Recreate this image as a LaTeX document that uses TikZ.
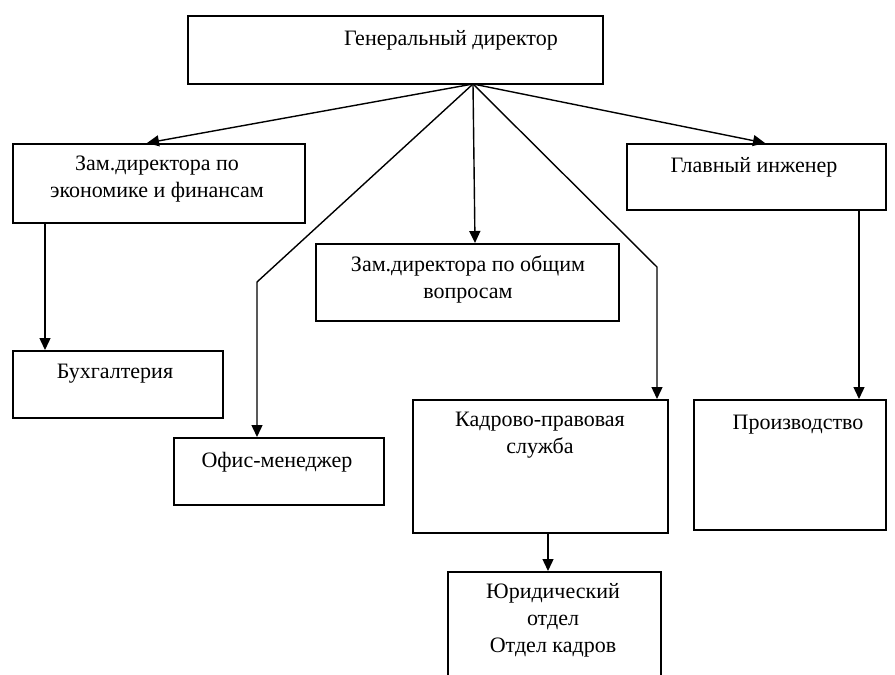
\documentclass[tikz,border=0pt]{standalone}
\usepackage{fontspec}
\setmainfont{Liberation Serif}
\usetikzlibrary{arrows.meta}
\begin{document}
\begin{tikzpicture}[x=1pt,y=-1pt,
  box/.style={draw, line width=2pt, inner sep=0pt, anchor=north west},
  lbl/.style={inner sep=0pt, anchor=base, align=center, font=\fontsize{22}{27}\selectfont},
  arr/.style={line width=1.4pt, -{Triangle[length=12pt,width=11pt]}},
  ln/.style={line width=1.4pt}]
\useasboundingbox (0,0) rectangle (895,675);
% boxes
\node[box, minimum width=415pt, minimum height=68pt] (gd) at (187,15) {};
\node[box, minimum width=292pt, minimum height=79pt] (ze) at (12,143) {};
\node[box, minimum width=259pt, minimum height=66pt] (gi) at (626,143) {};
\node[box, minimum width=303pt, minimum height=77pt] (zo) at (315,243) {};
\node[box, minimum width=210pt, minimum height=67pt] (bu) at (12,350) {};
\node[box, minimum width=210pt, minimum height=67pt] (of) at (173,437) {};
\node[box, minimum width=255pt, minimum height=133pt] (kp) at (412,399) {};
\node[box, minimum width=192pt, minimum height=130pt] (pr) at (693,399) {};
\node[box, minimum width=213pt, minimum height=115pt] (ur) at (447,571) {};
% labels (base = baseline of last line)
\node[lbl] (tgd) at (451,45) {Генеральный директор};
\node[lbl] (tze) at (157,197) {Зам.директора по\\экономике и финансам};
\node[lbl] (tgi) at (754,172) {Главный инженер};
\node[lbl] (tzo) at (468,298) {Зам.директора по общим\\вопросам};
\node[lbl] (tbu) at (115,378) {Бухгалтерия};
\node[lbl] (tof) at (277,467) {Офис-менеджер};
\node[lbl] (tkp) at (540,453) {Кадрово-правовая\\служба};
\node[lbl] (tpr) at (798,429) {Производство};
\node[lbl] (tur) at (553,652) {Юридический\\отдел\\Отдел кадров};
% connectors
\coordinate (hub) at (473,84);
\coordinate (k1) at (257,282);
\coordinate (k2) at (657,267);
\draw[arr] (hub) -- ([xshift=135pt]ze.north west);
\draw[arr] (hub) -- ([xshift=139pt]gi.north west);
\draw[arr] (hub) -- ([xshift=160pt]zo.north west);
\draw[arr] (hub) -- (k1) -- ([xshift=84pt]of.north west);
\draw[arr] (hub) -- (k2) -- ([xshift=245pt]kp.north west);
\draw[arr] ([xshift=33pt]ze.south west) -- ([xshift=33pt]bu.north west);
\draw[arr] ([xshift=233pt]gi.south west) -- ([xshift=166pt]pr.north west);
\draw[arr] ([xshift=136pt]kp.south west) -- ([xshift=101pt]ur.north west);
\end{tikzpicture}
\end{document}
